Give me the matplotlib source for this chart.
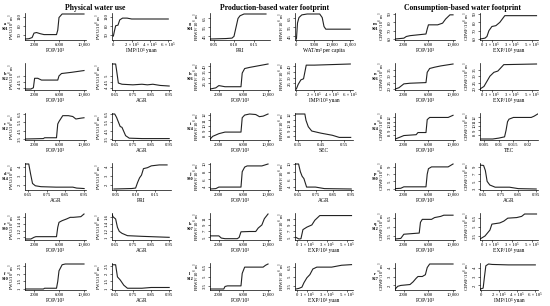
#!/usr/bin/env python
# partial dependence curves for physical water use and the two water footprints
import matplotlib.pyplot as plt

plt.rcParams['font.family'] = ['Liberation Serif', 'DejaVu Serif']
plt.rcParams['mathtext.fontset'] = 'stix'

# column titles and row labels
titles = ["Physical water use", "Production-based water footprint", "Consumption-based water footprint"]
ylabels = ["PWU/10$^8$ m$^3$", "PBWF/10$^8$ m$^3$", "CBWF/10$^8$ m$^3$"]
letters = [list("abcdef"), list("ghijkl"), list("mnopqr")]
sites = [["S01", "S22", "S12", "S14", "S30", "S10"],
         ["S01", "S06", "S24", "S30", "S07", "S12"],
         ["S01", "S06", "S24", "S30", "S12", "S27"]]

# variable of each small plot (left, right) per row
pwu_vars = [("POP", "IMP"), ("POP", "AGR"), ("POP", "AGR"), ("AGR", "PRI"), ("POP", "AGR"), ("POP", "AGR")]
pbwf_vars = [("PRI", "WAT"), ("POP", "IMP"), ("POP", "SEC"), ("POP", "AGR"), ("POP", "EXP"), ("POP", "EXP")]
cbwf_vars = [("POP", "EXP"), ("POP", "EXP"), ("POP", "TEC"), ("POP", "AGR"), ("POP", "EXP"), ("POP", "IMP")]

# ---- physical water use ----
pwu_left_x = [[600, 1200, 1700, 2000, 2400, 3000, 3600, 5600, 5800, 6000, 6500, 10000],
              [600, 1500, 1900, 2100, 2600, 3200, 5800, 6000, 6400, 8000, 10000],
              [600, 3500, 3700, 5600, 5800, 6000, 6600, 7500, 8200, 8700, 9500, 10000],
              [0.635, 0.655, 0.665, 0.675, 0.69, 0.72, 0.80, 0.89, 0.91, 0.95],
              [600, 1500, 2000, 2300, 5600, 5800, 6000, 6500, 7200, 7800, 8300, 9500, 10000],
              [600, 3500, 3700, 5600, 5800, 6000, 6500, 7000, 10000]]
pwu_left_y = [[35, 36, 40, 55, 57, 53, 50, 50, 65, 108, 120, 120],
              [3.9, 3.9, 4.0, 4.8, 4.8, 4.65, 4.65, 5.0, 5.2, 5.3, 5.45],
              [3.5, 3.55, 3.65, 3.65, 5.3, 5.6, 6.3, 6.3, 6.2, 5.9, 6.0, 6.05],
              [4.3, 4.3, 3.2, 2.2, 1.95, 1.85, 1.8, 1.8, 1.7, 1.65],
              [0.95, 0.95, 1.0, 1.02, 1.02, 1.3, 1.45, 1.5, 1.55, 1.6, 1.6, 1.62, 1.7],
              [1.0, 1.0, 1.05, 1.05, 1.5, 2.2, 2.6, 2.65, 2.65]]
pwu_right_x = [[0, 10000, 25000, 50000, 70000, 100000, 150000, 200000, 300000, 600000],
               [0.635, 0.655, 0.66, 0.67, 0.69, 0.75, 0.80, 0.83, 0.86, 0.90, 0.95],
               [0.635, 0.65, 0.66, 0.68, 0.69, 0.70, 0.71, 0.73, 0.80, 0.95],
               [0.045, 0.09, 0.10, 0.105, 0.11, 0.115, 0.12, 0.13, 0.14, 0.16, 0.18],
               [0.635, 0.64, 0.655, 0.665, 0.675, 0.69, 0.72, 0.80, 0.95],
               [0.635, 0.655, 0.665, 0.68, 0.70, 0.72, 0.80, 0.85, 0.95]]
pwu_right_y = [[45, 60, 80, 82, 100, 106, 106, 103, 103, 103],
               [6.0, 6.0, 5.5, 4.4, 4.3, 4.25, 4.3, 4.25, 4.3, 4.2, 4.15],
               [6.5, 6.5, 6.1, 5.0, 4.9, 4.4, 3.9, 3.6, 3.55, 3.55],
               [1.6, 1.65, 1.7, 2.3, 2.8, 3.1, 3.8, 3.9, 4.1, 4.2, 4.2],
               [1.7, 1.62, 1.55, 1.3, 1.18, 1.12, 1.05, 1.03, 1.0],
               [2.6, 2.6, 1.8, 1.6, 1.25, 1.05, 1.05, 1.1, 1.1]]
pwu_yticks = [[50, 80, 110], [4, 4.5, 5], [3.5, 4.5, 5.5, 6.5], [2, 3, 4], [1.0, 1.2, 1.4, 1.6], [1.0, 1.5, 2.0, 2.5]]

# ---- production-based water footprint ----
pbwf_left_x = [[0.04, 0.08, 0.095, 0.10, 0.105, 0.11, 0.115, 0.125, 0.18],
               [600, 1500, 2000, 3000, 5600, 5800, 6200, 7000, 8000, 10000],
               [600, 1000, 2000, 3000, 5600, 5800, 6200, 7000, 8000, 8600, 9200, 10000],
               [600, 1500, 2000, 5600, 5800, 6200, 6600, 9000, 10000],
               [600, 2000, 2400, 3000, 5000, 5300, 5600, 7000, 8000, 8400, 9000, 9400, 10000],
               [600, 2800, 3000, 3400, 5600, 5800, 6200, 9200, 9600, 10000]]
pbwf_left_y = [[42, 42.5, 43, 45, 55, 65, 68, 70, 70],
               [20, 21, 23, 22, 22, 34, 38, 39, 40, 42],
               [7.5, 8.0, 8.5, 8.8, 8.8, 11.5, 12.0, 12.2, 12.1, 11.7, 11.8, 12.2],
               [3.5, 3.6, 4.0, 4.0, 8.0, 9.2, 9.5, 9.5, 10.0],
               [5.5, 5.5, 4.8, 4.6, 4.6, 5.0, 6.8, 6.9, 6.9, 8.0, 9.0, 11.0, 12.5],
               [3.0, 3.0, 3.4, 3.5, 3.5, 5.5, 6.5, 6.5, 6.8, 7.0]]
pbwf_right_x = [[0, 300, 700, 1500, 3000, 6500, 7200, 7700, 8200, 15000],
                [0, 20000, 50000, 80000, 95000, 110000, 200000, 600000],
                [0.34, 0.38, 0.385, 0.395, 0.41, 0.45, 0.50, 0.53, 0.58],
                [0.635, 0.655, 0.665, 0.675, 0.685, 0.70, 0.75, 0.80, 0.95],
                [-10000, 20000, 40000, 60000, 100000, 150000, 180000, 230000, 300000, 550000],
                [-10000, 20000, 50000, 70000, 100000, 130000, 160000, 200000, 350000, 450000, 550000]]
pbwf_right_y = [[42, 60, 66, 69, 70, 70, 66, 56, 53, 53],
                [20, 24, 28, 29, 35, 41, 41, 42],
                [12.2, 12.2, 11.0, 9.8, 9.0, 8.6, 8.2, 7.8, 7.8],
                [10.0, 10.0, 8.0, 6.8, 6.2, 4.0, 4.0, 3.6, 3.5],
                [5.0, 4.5, 4.6, 7.5, 8.3, 9.0, 10.5, 12.0, 12.0, 12.0],
                [3.0, 3.1, 3.3, 4.0, 4.8, 5.3, 6.2, 6.5, 6.5, 6.8, 6.9]]
pbwf_yticks = [[45, 55, 65], [25, 30, 35, 40], [8, 9, 10, 11, 12], [4, 6, 8, 10], [5, 7, 9, 11], [3.5, 5.0, 6.5]]

# ---- consumption-based water footprint ----
cbwf_left_x = [[600, 2000, 2400, 3000, 5600, 5800, 6000, 7500, 8300, 8800, 9500, 10000],
               [600, 1200, 2000, 3000, 5600, 5800, 6200, 7000, 8000, 10000],
               [600, 1500, 2000, 4000, 4300, 5600, 5800, 6200, 9200, 10000],
               [600, 1500, 2000, 5600, 5800, 6000, 6500, 9200, 10000],
               [600, 1500, 2000, 4500, 4700, 5000, 6500, 7000, 8000, 8500, 10000],
               [600, 1000, 1500, 3000, 3500, 4000, 4300, 5000, 5500, 5800, 6200, 10000]]
cbwf_left_y = [[60, 61, 63, 64, 66, 72, 77, 77, 79, 84, 89, 89],
               [20, 21, 24, 24.5, 25, 33, 36, 37, 38, 39.5],
               [7.0, 7.5, 7.8, 8.0, 8.5, 8.5, 11.5, 12.0, 12.0, 12.5],
               [3.0, 3.1, 3.5, 3.5, 7.0, 8.5, 9.0, 9.0, 9.8],
               [3.0, 3.1, 3.8, 4.0, 5.8, 6.3, 6.3, 6.6, 6.8, 7.0, 7.0],
               [1.6, 1.9, 2.0, 2.1, 2.4, 2.8, 3.0, 3.0, 3.2, 4.0, 4.4, 4.4]]
cbwf_right_x = [[-20000, 30000, 50000, 70000, 100000, 140000, 180000, 230000, 550000],
                [-20000, 20000, 50000, 80000, 120000, 160000, 220000, 550000],
                [0.004, 0.008, 0.010, 0.012, 0.0125, 0.013, 0.0135, 0.015, 0.021, 0.022, 0.0232],
                [0.635, 0.655, 0.665, 0.675, 0.69, 0.72, 0.80, 0.85, 0.95],
                [-20000, 30000, 80000, 100000, 180000, 220000, 260000, 350000, 400000, 430000, 550000],
                [-10000, 20000, 35000, 50000, 80000, 120000, 300000, 600000]]
cbwf_right_y = [[60, 61, 63, 70, 75, 76, 80, 88, 88],
                [20, 22, 26, 30, 33, 34, 39, 39.5],
                [7.0, 7.0, 7.2, 7.5, 9.0, 11.0, 11.6, 12.0, 12.0, 12.3, 12.8],
                [9.5, 9.4, 8.0, 5.0, 4.0, 3.4, 3.4, 3.0, 2.9],
                [3.0, 3.5, 4.5, 5.5, 5.7, 6.0, 6.5, 6.6, 6.8, 7.2, 7.2],
                [1.6, 1.7, 3.0, 4.2, 4.4, 4.35, 4.3, 4.3]]
cbwf_yticks = [[60, 70, 80, 90], [20, 25, 30, 35], [8, 9, 10, 11, 12], [3, 5, 7, 9], [3.5, 5.0, 6.5], [2, 3, 4]]

# axis label, ticks, tick labels and x range for each driver
drivers = {
    "POP": ("POP/10³", [2000, 6000, 10000], ["2000", "6000", "10,000"], (560, 10320)),
    "AGR": ("AGR", [0.65, 0.75, 0.85, 0.95], ["0.65", "0.75", "0.85", "0.95"], (0.635, 0.96)),
    "PRI": ("PRI", [0.05, 0.10, 0.15], ["0.05", "0.10", "0.15"], (0.04, 0.19)),
    "SEC": ("SEC", [0.35, 0.45, 0.55], ["0.35", "0.45", "0.55"], (0.337, 0.59)),
    "TEC": ("TEC", [0.005, 0.01, 0.015, 0.02], ["0.005", "0.01", "0.015", "0.02"], (0.0037, 0.0233)),
    "WAT": ("WAT/m³ per capita", [0, 5000, 10000, 15000], ["0", "5000", "10,000", "15,000"], (-400, 15800)),
    "IMP": ("IMP/10³ yuan", [0, 2e5, 4e5, 6e5], ["0", "2 × 10⁵", "4 × 10⁵", "6 × 10⁵"], (-15000, 630000)),
    "EXP": ("EXP/10³ yuan", [0, 1e5, 3e5, 5e5], ["0", "1 × 10⁵", "3 × 10⁵", "5 × 10⁵"], (-20000, 565000)),
}

groups = [
    (pwu_vars, pwu_left_x, pwu_left_y, pwu_right_x, pwu_right_y, pwu_yticks),
    (pbwf_vars, pbwf_left_x, pbwf_left_y, pbwf_right_x, pbwf_right_y, pbwf_yticks),
    (cbwf_vars, cbwf_left_x, cbwf_left_y, cbwf_right_x, cbwf_right_y, cbwf_yticks),
]

W, H = 550, 306
fig = plt.figure(figsize=(W / 100, H / 100), dpi=100)

# pixel layout
col_left = [(25, 86, 112, 171), (210, 270, 295, 353), (395, 455, 480, 538)]
row_top = [13, 63, 113, 163, 213, 263]
row_h = 27
title_x = [95, 275, 462]
label_x = [5, 190, 375]


def style(ax, var, yticks, ylab):
    xlab, xt, xtl, xlim = drivers[var]
    for s in ["top", "right"]:
        ax.spines[s].set_visible(False)
    for s in ["left", "bottom"]:
        ax.spines[s].set_linewidth(0.5)
    ax.set_xlim(xlim)
    ax.set_xticks(xt)
    ax.set_xticklabels(xtl)
    ax.set_yticks(yticks)
    ax.set_yticklabels([f"{t:g}" for t in yticks], rotation=90, va="center")
    ax.tick_params(labelsize=3.4, length=1.3, width=0.4, pad=0.8)
    ax.set_xlabel(xlab, fontsize=4.0, labelpad=0.6)
    ax.set_ylabel(ylab, fontsize=3.4, labelpad=0.6)


for g, (vars_, lx, ly, rx, ry, yts) in enumerate(groups):
    fig.text(title_x[g] / W, 1 - 8 / H, titles[g], ha="center", va="center",
             fontsize=5.5, fontweight="bold")
    l0, l1, r0, r1 = col_left[g]
    for i in range(6):
        top = row_top[i]
        yb = 1 - (top + row_h) / H
        axl = fig.add_axes([l0 / W, yb, (l1 - l0) / W, row_h / H])
        axr = fig.add_axes([r0 / W, yb, (r1 - r0) / W, row_h / H])
        axl.plot(lx[i], ly[i], color="#222222", lw=0.8)
        axr.plot(rx[i], ry[i], color="#222222", lw=0.8)
        lo = min(min(ly[i]), min(ry[i]), min(yts[i]))
        hi = max(max(ly[i]), max(ry[i]), max(yts[i]))
        pad = (hi - lo) * 0.04
        for ax in (axl, axr):
            ax.set_ylim(lo - pad, hi + pad)
        style(axl, vars_[i][0], yts[i], ylabels[g])
        style(axr, vars_[i][1], yts[i], ylabels[g])
        fig.text(label_x[g] / W, 1 - (top + row_h / 2) / H, letters[g][i] + "\n" + sites[g][i],
                 ha="center", va="center", fontsize=3.2, fontweight="bold", linespacing=1.3)

fig.savefig("out.png", dpi=100)
